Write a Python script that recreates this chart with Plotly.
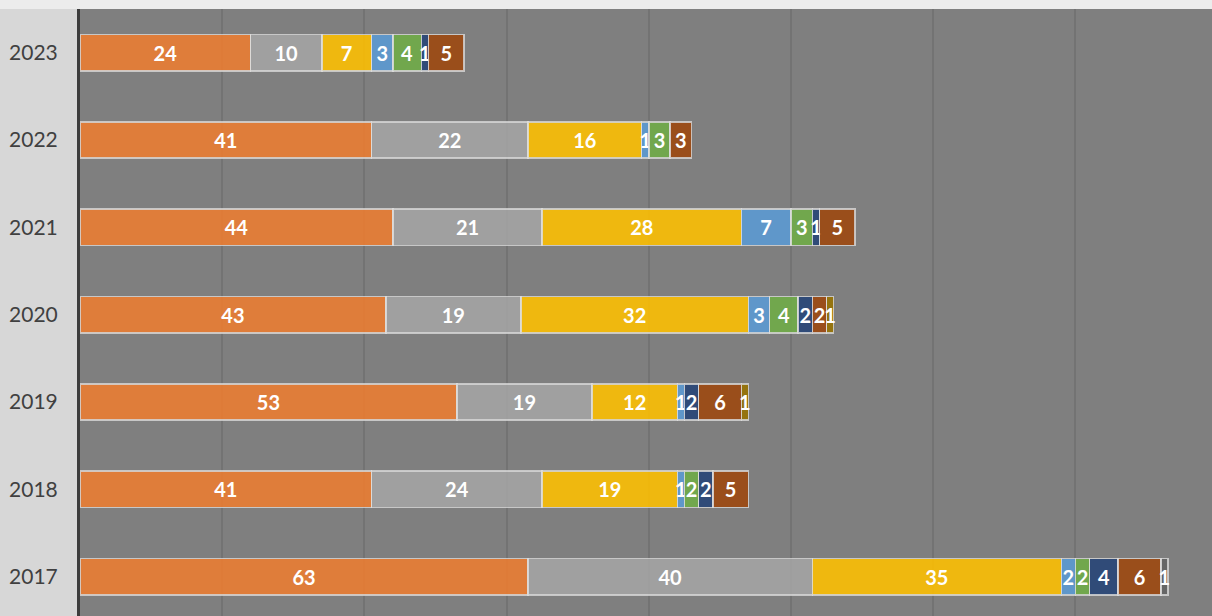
import plotly.graph_objects as go

years = ["2017", "2018", "2019", "2020", "2021", "2022", "2023"]
s1 = [63, 41, 53, 43, 44, 41, 24]
s2 = [40, 24, 19, 19, 21, 22, 10]
s3 = [35, 19, 12, 32, 28, 16, 7]
s4 = [2, 1, 1, 3, 7, 1, 3]
s5 = [2, 2, 0, 4, 3, 3, 4]
s6 = [4, 2, 2, 2, 1, 0, 1]
s7 = [6, 5, 6, 2, 5, 3, 5]
s8 = [1, 0, 0, 0, 0, 0, 0]
s9 = [0, 0, 1, 1, 0, 0, 0]

series = [s1, s2, s3, s4, s5, s6, s7, s8, s9]
names = ["Series 1", "Series 2", "Series 3", "Series 4", "Series 5",
         "Series 6", "Series 7", "Series 8", "Series 9"]
colors = ["#ED7D31", "#A5A5A5", "#FFC000", "#5B9BD5", "#70AD47",
          "#264478", "#9E480E", "#636363", "#997300"]

fig = go.Figure()
for vals, name, col in zip(series, names, colors):
    xs = [v if v else None for v in vals]
    txt = [str(v) if v else "" for v in vals]
    fig.add_trace(go.Bar(
        y=years, x=xs, name=name, orientation="h",
        marker=dict(color=col, opacity=0.88,
                    line=dict(color="rgba(225,225,225,0.85)", width=1.5)),
        text=txt, textposition="inside", insidetextanchor="middle",
        textfont=dict(family="Lato", size=20, color="white", weight="bold"),
        hoverinfo="x+y+name",
    ))

fig.update_layout(
    width=1212, height=616,
    barmode="stack", bargap=0.585,
    showlegend=False,
    margin=dict(l=80, r=0, t=9, b=0),
    paper_bgcolor="#d7d7d7",
    plot_bgcolor="#7f7f7f",
    uniformtext=dict(minsize=20, mode="show"),
    font=dict(family="Lato"),
    shapes=[dict(type="rect", xref="paper", yref="paper",
                 x0=-0.1, x1=1.1, y0=1, y1=1.2,
                 fillcolor="#ececec", line=dict(width=0), layer="below")],
)
fig.update_xaxes(range=[0, 159.2], dtick=20, showticklabels=False,
                 showgrid=True, gridcolor="#737373", gridwidth=2,
                 zeroline=False, fixedrange=True)
fig.update_yaxes(type="category", categoryorder="array", categoryarray=years,
                 range=[-0.45, 6.5], showgrid=False,
                 showline=True, linecolor="#3c3c3c", linewidth=3,
                 ticks="", ticklabelstandoff=15,
                 tickfont=dict(family="Lato", size=21, color="#404040"),
                 fixedrange=True)

fig.write_html(
    "out.html",
    config={"displayModeBar": False},
    post_script="document.body.style.margin='0px';"
                "document.body.style.background='#d7d7d7';",
)
